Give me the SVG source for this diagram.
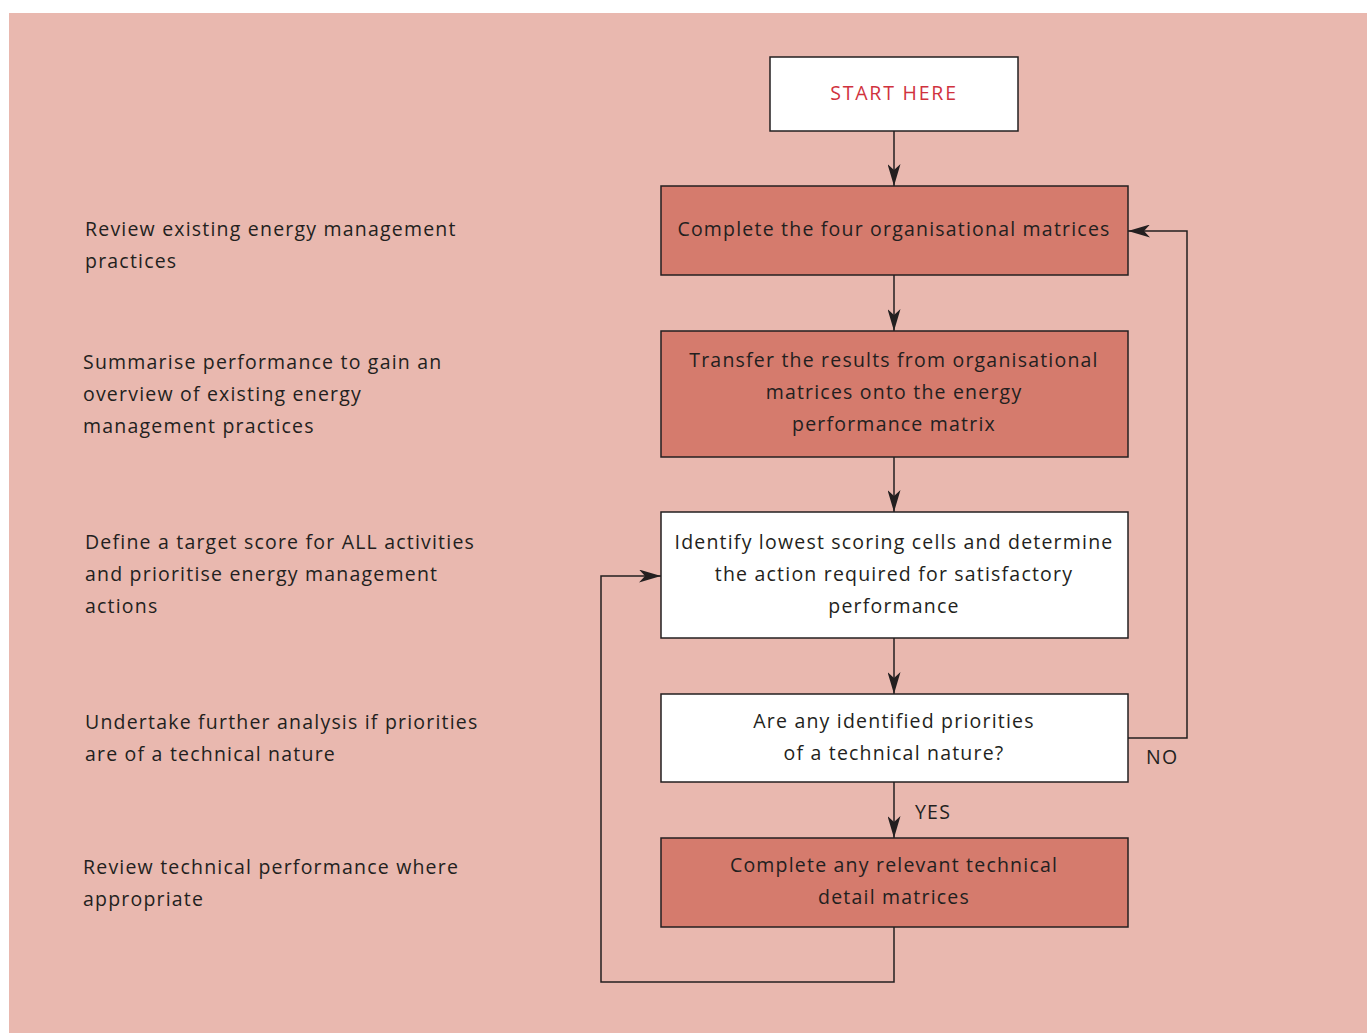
<svg xmlns="http://www.w3.org/2000/svg" width="1367" height="1033" viewBox="0 0 1367 1033">
<style>
.t{font-family:"Open Sans","Liberation Sans",sans-serif;font-size:19.5px;fill:#231f20;letter-spacing:1.2px}
.c{text-anchor:middle}
.dk{fill:#d57b6d;stroke:#231f20;stroke-width:1.5}
.wh{fill:#ffffff;stroke:#231f20;stroke-width:1.5}
.ln{fill:none;stroke:#231f20;stroke-width:1.5}
</style>
<defs>
<marker id="ah" viewBox="0 0 22 13" refX="22" refY="6.5" markerWidth="22" markerHeight="13" markerUnits="userSpaceOnUse" orient="auto">
<path d="M0,0 L22,6.5 L0,13 L6,6.5 Z" fill="#231f20"/>
</marker>
</defs>
<rect x="0" y="0" width="1367" height="1033" fill="#ffffff"/>
<rect x="9" y="13" width="1358" height="1020" fill="#e9b8af"/>
<g id="left-labels">
<text class="t" x="85" y="236">Review existing energy management</text>
<text class="t" x="85" y="268">practices</text>
<text class="t" x="83" y="369">Summarise performance to gain an</text>
<text class="t" x="83" y="401">overview of existing energy</text>
<text class="t" x="83" y="433">management practices</text>
<text class="t" x="85" y="549">Define a target score for ALL activities</text>
<text class="t" x="85" y="581">and prioritise energy management</text>
<text class="t" x="85" y="613">actions</text>
<text class="t" x="85" y="729">Undertake further analysis if priorities</text>
<text class="t" x="85" y="761">are of a technical nature</text>
<text class="t" x="83" y="874">Review technical performance where</text>
<text class="t" x="83" y="906">appropriate</text>
</g>
<g id="start">
<rect class="wh" x="770" y="57" width="248" height="74"/>
<text class="t c" x="894" y="100" style="fill:#d0323e;letter-spacing:1.8px">START HERE</text>
</g>
<g id="n1">
<rect class="dk" x="661" y="186" width="467" height="89"/>
<text class="t c" x="894" y="236">Complete the four organisational matrices</text>
</g>
<g id="n2">
<rect class="dk" x="661" y="331" width="467" height="126"/>
<text class="t c" x="894" y="367">Transfer the results from organisational</text>
<text class="t c" x="894" y="399">matrices onto the energy</text>
<text class="t c" x="894" y="431">performance matrix</text>
</g>
<g id="n3">
<rect class="wh" x="661" y="512" width="467" height="126"/>
<text class="t c" x="894" y="549">Identify lowest scoring cells and determine</text>
<text class="t c" x="894" y="581">the action required for satisfactory</text>
<text class="t c" x="894" y="613">performance</text>
</g>
<g id="n4">
<rect class="wh" x="661" y="694" width="467" height="88"/>
<text class="t c" x="894" y="728">Are any identified priorities</text>
<text class="t c" x="894" y="760">of a technical nature?</text>
</g>
<g id="n5">
<rect class="dk" x="661" y="838" width="467" height="89"/>
<text class="t c" x="894" y="872">Complete any relevant technical</text>
<text class="t c" x="894" y="904">detail matrices</text>
</g>
<g id="connectors">
<line class="ln" x1="894" y1="131" x2="894" y2="186" marker-end="url(#ah)"/>
<line class="ln" x1="894" y1="275" x2="894" y2="331" marker-end="url(#ah)"/>
<line class="ln" x1="894" y1="457" x2="894" y2="512" marker-end="url(#ah)"/>
<line class="ln" x1="894" y1="638" x2="894" y2="694" marker-end="url(#ah)"/>
<line class="ln" x1="894" y1="782" x2="894" y2="838" marker-end="url(#ah)"/>
<polyline class="ln" points="1128,738 1187,738 1187,231 1128,231" marker-end="url(#ah)"/>
<polyline class="ln" points="894,927 894,982 601,982 601,576 661,576" marker-end="url(#ah)"/>
<text class="t" x="1146" y="764">NO</text>
<text class="t" x="915" y="819">YES</text>
</g>
</svg>
